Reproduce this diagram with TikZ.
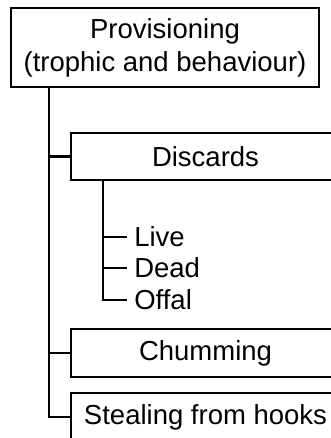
\documentclass[tikz,border=0pt]{standalone}
\usepackage{fontspec}
\setmainfont{Liberation Sans}
\usepackage{tikz}
\usetikzlibrary{positioning}

\begin{document}
\begin{tikzpicture}[x=1pt,y=-1pt,
    line width=2.6pt,
    every node/.style={font=\fontsize{27.5}{33}\selectfont},
    topbox/.style={draw,align=center,minimum width=308pt,minimum height=79pt,inner sep=0pt},
    catbox/.style={draw,minimum width=269pt,minimum height=48pt,inner sep=0pt},
    leaf/.style={anchor=west,inner xsep=6pt,inner ysep=0pt,text depth=0pt}]
    \useasboundingbox (0,0) rectangle (331,438);
    \clip (0,0) rectangle (331,438);

    % Top box
    \node[topbox] (prov) at (165,47.5) {Provisioning\\(trophic and behaviour)};

    % Categories
    \node[catbox,minimum height=47pt] (disc) at (205.5,156.5) {Discards};
    \node[catbox] (chum) at (205.5,353) {Chumming};
    \node[catbox] (steal) at (205.5,417) {Stealing from hooks};

    % Discard types
    \node[leaf] (live) at (127,237) {Live};
    \node[leaf] (dead) at (127,268) {Dead};
    \node[leaf] (offal) at (127,300) {Offal};

    % Main trunk
    \coordinate (trunk) at (prov.south -| 49,0);
    \draw (trunk) |- (steal.west);
    \draw (trunk |- disc.west) -- (disc.west);
    \draw (trunk |- chum.west) -- (chum.west);

    % Discards trunk
    \coordinate (dtrunk) at (disc.south -| 103,0);
    \draw (dtrunk) |- (offal.west);
    \draw (dtrunk |- live.west) -- (live.west);
    \draw (dtrunk |- dead.west) -- (dead.west);
\end{tikzpicture}
\end{document}
